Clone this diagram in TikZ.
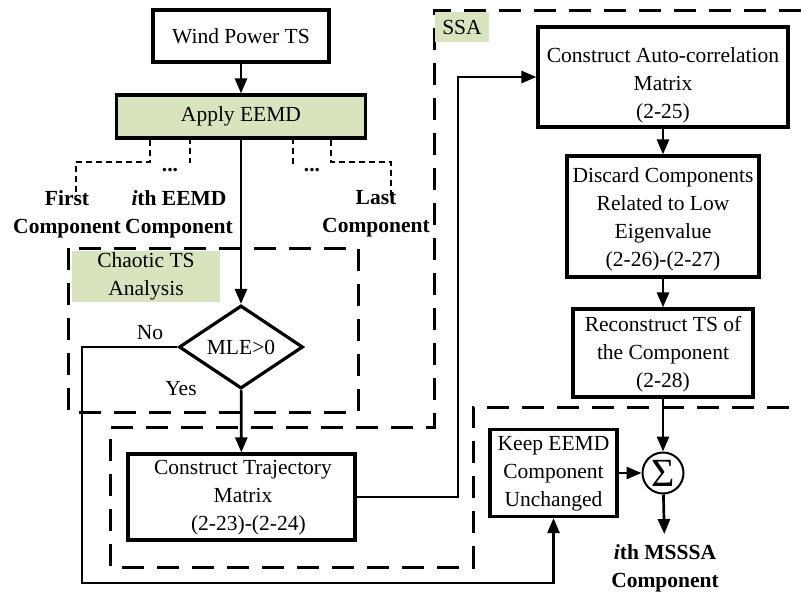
\documentclass[tikz,border=0pt]{standalone}
\usepackage{fontspec}
\setmainfont{Liberation Serif}
\usetikzlibrary{shapes.geometric,arrows.meta}
\definecolor{boxgreen}{HTML}{D7E4BD}
\begin{document}
\begin{tikzpicture}[x=1pt,y=-1pt,
  every node/.style={font=\fontsize{21.5}{28}\selectfont, inner sep=0pt},
  stepbox/.style={draw, line width=3.2pt, rectangle},
  txt/.style={align=center},
  lbl/.style={align=center, font=\fontsize{21.5}{28}\selectfont\bfseries},
  tag/.style={fill=boxgreen, align=center},
  conn/.style={line width=2.7pt, -{Triangle[length=15pt,width=12pt]}},
  region/.style={line width=3pt, dash pattern=on 22pt off 13pt},
  dotline/.style={line width=2.4pt, dash pattern=on 6pt off 4pt}]
\path[use as bounding box] (0,0) rectangle (801,595);

% dashed group outlines
\draw[region] (68,248) rectangle (358,412);
\draw[region] (801,10) -- (434,10) -- (434,427) -- (110,427) -- (110,567)
  -- (473,567) -- (473,407) -- (801,407);

% group tags
\node[tag, minimum width=148pt, minimum height=51pt] (chaostag) at (146,276.5) {Chaotic TS\\Analysis};
\node[tag, minimum width=54pt, minimum height=30pt] (ssatag) at (462,27) {SSA};

% main flow boxes
\node[stepbox, minimum width=176pt, minimum height=52pt] (wind) at (241,36) {Wind Power TS};
\node[stepbox, fill=boxgreen, minimum width=249pt, minimum height=43pt] (eemd) at (241,116.5) {Apply EEMD};
\node[draw, diamond, line width=3.2pt, minimum width=124pt, minimum height=83pt] (dia) at (241,347) {MLE>0};

\node[stepbox, minimum width=227pt, minimum height=86pt] (traj) at (241.5,497) {};
\node[txt] (trajtxt) at (243,498) {Construct Trajectory\\Matrix\\\ \ (2-23)-(2-24)};

\node[stepbox, minimum width=250pt, minimum height=100pt] (auto) at (663,77) {};
\node[txt] (autotxt) at (663,85) {Construct Auto-correlation\\Matrix\\(2-25)};

\node[stepbox, minimum width=192pt, minimum height=121pt] (disc) at (663,216.5) {};
\node[txt] (disctxt) at (663,219) {Discard Components\\Related to Low\\Eigenvalue\\(2-26)-(2-27)};

\node[stepbox, minimum width=180pt, minimum height=88pt] (recon) at (663,353) {};
\node[txt] (recontxt) at (663,354) {Reconstruct TS of\\the Component\\(2-28)};

\node[stepbox, minimum width=127pt, minimum height=87pt] (keep) at (553.5,473) {};
\node[txt] (keeptxt) at (553.5,474) {Keep EEMD\\Component\\Unchanged};

\node[draw, circle, line width=2pt, minimum size=41pt] (sig) at (663,473)
  {\fontsize{40}{40}\selectfont Σ};

% component labels
\node[lbl] (first) at (67,214) {First\\Component};
\node[lbl] (ith) at (179,214) {\textit{i}th EEMD\\Component};
\node[lbl] (last) at (376,214) {Last\\Component};
\node[lbl] (out) at (665,568) {\textit{i}th MSSSA\\Component};
\node[font=\fontsize{21.5}{28}\selectfont\bfseries] (dotsa) at (170,170) {...};
\node[font=\fontsize{21.5}{28}\selectfont\bfseries] (dotsb) at (312,170) {...};

\node (no) at (150,333) {No};
\node (yes) at (181,389) {Yes};

% dotted branches leaving the decomposition
\coordinate (fa) at (150,162);
\coordinate (fb) at (76,196);
\coordinate (la) at (331,162);
\coordinate (lb) at (391,196);
\draw[dotline] (eemd.south -| fa) -- (fa) -| (fb);
\draw[dotline] (190,138) -- (190,163);
\draw[dotline] (293,138) -- (293,165);
\draw[dotline] (eemd.south -| la) -- (la) -| (lb);

% connectors
\draw[conn] (wind) -- (eemd);
\draw[conn] (eemd) -- (dia);
\draw[conn] (dia) -- (traj);
\coordinate (nocorner) at (82,583);
\draw[conn] (dia.west) -| (nocorner) -| (keep.south);
\coordinate (ssaturn) at (458,77);
\draw[conn] (traj.east) -| (ssaturn) -- (auto.west);
\draw[conn] (auto) -- (disc);
\draw[conn] (disc) -- (recon);
\draw[conn] (recon) -- (sig);
\draw[conn] (keep) -- (sig);
\draw[conn, shorten >=10pt] (sig) -- (out);
\end{tikzpicture}
\end{document}
